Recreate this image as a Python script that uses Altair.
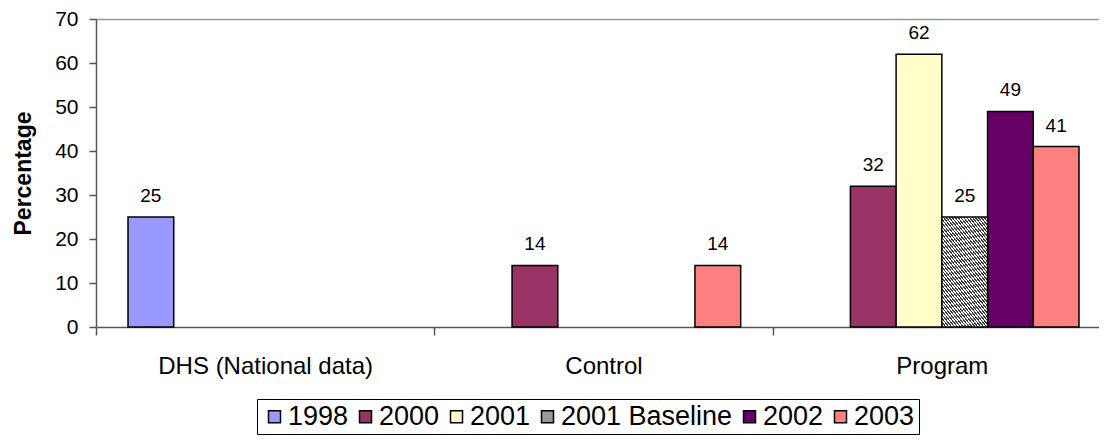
import altair as alt
import pandas as pd

groups = ["DHS (National data)", "Control", "Program"]
series = ["1998", "2000", "2001", "2001 Baseline", "2002", "2003"]
colors = ["#9999FF", "#993366", "#FFFFCC", "#999999", "#660066", "#FF8080"]

bar_group = ["DHS (National data)", "Control", "Control", "Program", "Program",
             "Program", "Program", "Program"]
bar_series = ["1998", "2000", "2003", "2000", "2001", "2001 Baseline", "2002", "2003"]
bar_value = [25, 14, 14, 32, 62, 25, 49, 41]

y_ticks = [0, 10, 20, 30, 40, 50, 60, 70]

df = pd.DataFrame({"group": bar_group, "series": bar_series, "value": bar_value})

FONT = "Liberation Sans"

x_enc = alt.X(
    "group:N",
    sort=groups,
    scale=alt.Scale(domain=groups, paddingInner=0, paddingOuter=0, range=[0, 1015]),
    axis=alt.Axis(
        title=None, labelAngle=0, labelFontSize=24, labelColor="black",
        labelFont=FONT, labelLimit=0, tickBand="extent", tickSize=8,
        tickColor="#555555", domainColor="#555555", domainWidth=1.5, tickWidth=1.5,
        labelPadding=31, labelBaseline="middle",
    ),
)
xo_enc = alt.XOffset(
    "series:N", sort=series,
    scale=alt.Scale(domain=series, paddingInner=0, paddingOuter=0.7),
)
y_enc = alt.Y(
    "value:Q",
    scale=alt.Scale(domain=[0, 70], nice=False),
    axis=alt.Axis(
        values=y_ticks, title="Percentage", labelFontSize=21, labelColor="black",
        labelFont=FONT, tickSize=7, tickColor="#555555", tickWidth=1.5,
        domainColor="#555555", domainWidth=1.5, labelPadding=11,
        grid=True, gridColor="#999999", gridWidth=1.5,
        gridOpacity=alt.condition("datum.value == 70", alt.value(1), alt.value(0)),
        titleFontSize=23, titleFontWeight="bold", titleFont=FONT, titleColor="black",
        titleAngle=270, titleX=-73, titleY=154, titleAlign="center",
        titleBaseline="middle",
    ),
)

base = alt.Chart(df)

main_bars = base.transform_filter("datum.series != '2001 Baseline'").mark_bar(
    stroke="black", strokeWidth=1.5
).encode(
    x=x_enc,
    xOffset=xo_enc,
    y=y_enc,
    fill=alt.Fill(
        "series:N",
        sort=series,
        scale=alt.Scale(domain=series, range=colors),
        legend=alt.Legend(
            title=None, orient="none", legendX=161, legendY=380,
            direction="horizontal", symbolType="square", symbolSize=144,
            symbolStrokeColor="black", symbolStrokeWidth=1.5,
            labelFontSize=27, labelFont=FONT, labelColor="black", labelLimit=0,
            labelOffset=0, columnPadding=3, padding=4, symbolOffset=0,
            strokeColor="black", fillColor="white",
        ),
    ),
)

n = 60
stops = []
for k in range(n):
    a = k / n
    b = (k + 0.5) / n
    c = (k + 1) / n
    stops += [
        alt.GradientStop(offset=a, color="#3a3a3a"),
        alt.GradientStop(offset=b, color="#3a3a3a"),
        alt.GradientStop(offset=b, color="#ffffff"),
        alt.GradientStop(offset=c, color="#ffffff"),
    ]
hatch = alt.LinearGradient(gradient="linear", stops=stops, x1=0, y1=0, x2=1, y2=1)

baseline_bar = base.transform_filter("datum.series == '2001 Baseline'").mark_bar(
    fill=hatch, stroke="black", strokeWidth=1.5
).encode(x=x_enc, xOffset=xo_enc, y=y_enc)

labels = base.mark_text(
    dy=-15, baseline="alphabetic", fontSize=19, font=FONT, color="black"
).encode(x=x_enc, xOffset=xo_enc, y=y_enc, text=alt.Text("value:Q"))

chart = alt.layer(main_bars, baseline_bar, labels).properties(
    width=1003,
    height=308,
    autosize=alt.AutoSizeParams(type="none"),
    padding={"left": 88, "top": 11, "right": 0, "bottom": 109},
).configure_view(stroke=None).configure(font=FONT)

chart.save("out.html", embed_options={"renderer": "svg", "actions": False})
